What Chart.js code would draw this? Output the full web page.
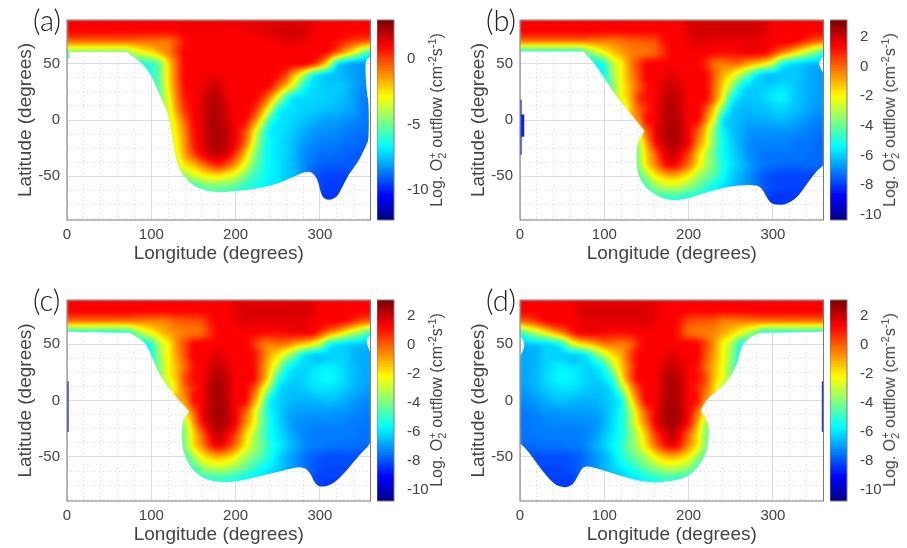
<!DOCTYPE html>
<html>
<head>
<meta charset="utf-8">
<script src="https://cdn.jsdelivr.net/npm/chart.js@4"></script>
<style>
    body { margin: 0; background: #fff; font-family: "Liberation Sans", sans-serif; color: #444; }
    canvas { position: absolute; }
    .tag { position: absolute; font: 300 29px "Lato", sans-serif; color: #222; }
    .cbTitle { position: absolute; font-size: 16px; white-space: nowrap; transform: translate(-50%, -50%) rotate(-90deg); }
    .cbTitle sub, .cbTitle sup { font-size: 11px; line-height: 0; }
    .cbTitle .stack { margin-left: -6px; }
</style>
</head>
<body>
<script>
// grid axes of the value tables: one row per latitude, one column per longitude
const lons = [0,10,20,30,40,50,60,70,80,90,100,110,120,130,140,150,160,170,180,190,200,210,220,230,240,250,260,270,280,290,300,310,320,330,340,350,360];
const lats = [90,80,70,60,50,40,30,20,10,0,-10,-20,-30,-40,-50,-60,-70,-80];

const lonGrid = [0,20,40,60,80,100,120,140,160,180,200,220,240,260,280,300,320,340,360];
const latGrid = [-87.5,-75,-62.5,-50,-37.5,-25,-12.5,0,12.5,25,37.5,50,62.5,75,87.5];
const lonLabels = [0,100,200,300];
const latLabels = [-50,0,50];

// log10 O2+ outflow
const valuesA = [
[1.1,1.1,1.1,1.1,1.1,1.1,1.1,1.1,1.1,1.1,1.1,1.1,1.1,1.1,1.3,1.3,1.3,1.3,1.3,1.3,1.3,1.3,1.3,1.3,1.3,1.3,1.3,1.3,1.3,1.3,1.1,1.1,1.1,1.1,1.1,1.1,1.1],
[1.1,1.1,1.1,1.1,1.1,1.1,1.1,1.1,1.1,1.1,1.1,1.1,1.1,1.1,1.3,1.3,1.3,1.3,1.3,1.2,1.2,1.3,1.4,1.5,1.6,1.7,1.8,1.8,1.7,1.4,1.2,1.1,1.1,1.1,1.1,1.1,1.1],
[-0.6,-0.6,-0.6,-0.6,-0.6,-0.6,-0.6,-0.6,-0.6,-0.6,-0.6,-0.6,-0.6,0.1,0.9,1.1,1.1,1.1,1.2,1.1,1.1,1.1,1.1,1.2,1.2,1.3,1.5,1.5,1.4,1.2,1.1,1.1,0.9,0.5,0.1,-0.2,-0.4],
[-4.6,-4.6,-4.6,-4.6,-4.6,-4.6,-4.6,-4.6,-3.6,-2.9,-2.4,-1.6,-0.9,0.2,1.1,1.1,1.1,1.1,1.1,1.1,1.1,1.1,1.1,1.1,1.1,1.1,1.1,1.1,1.1,1.1,1.1,0.7,-0.5,-1.7,-3,-4.6,-5.8],
[-6,-6,-6,-6,-6,-6,-6,-6,-6,-6.2,-5.6,-4.8,-2.2,-0.4,1.1,1.1,1.1,1.1,1.1,1.1,1.1,1.1,1.1,1.1,1.1,1.1,1.1,1.1,1.1,0.5,-0.7,-3,-6.5,-7.5,-8,-8,-8],
[-6,-6,-6,-6,-6,-6,-6,-6,-6,-6,-6,-4.8,-2.4,-0.4,1.1,1.1,1.2,1.3,1.3,1.2,1.1,1.1,1.1,1.1,1.1,0.9,0,-1.8,-3.6,-5.9,-6.9,-7.5,-7.5,-7.7,-8,-8.2,-8.2],
[-5.5,-5.5,-5.5,-5.5,-5.5,-5.5,-5.5,-5.5,-5.5,-5.5,-5.5,-5,-2.6,-0.6,1,1.1,1.3,1.8,1.7,1.2,1.1,1.1,1.1,1.1,0.9,-0.4,-1.9,-3.8,-6,-6.9,-7.2,-7.3,-7.3,-7.5,-7.9,-8.2,-8.4],
[-5,-5,-5,-5,-5,-5,-5,-5,-5,-5,-5,-4.9,-3,-0.9,0.7,1.1,1.5,2,2,1.4,1.1,1.1,1.1,0.6,-0.9,-3,-5.6,-6.9,-7,-7.1,-7.2,-7.3,-7.4,-7.6,-8,-8.4,-8.6],
[-4.5,-4.5,-4.5,-4.5,-4.5,-4.5,-4.5,-4.5,-4.5,-4.5,-4.5,-4.5,-3.4,-1.2,0.4,1.1,1.6,2.2,2.2,1.6,1.1,1.1,0.8,-0.7,-3,-6,-6.8,-7,-7.2,-7.3,-7.4,-7.5,-7.6,-7.8,-8,-8.4,-8.6],
[-4,-4,-4,-4,-4,-4,-4,-4,-4,-4,-4,-4,-3.6,-2,-0.3,1,1.5,2.3,2.2,1.7,1.2,1.1,-0.3,-2.4,-5.6,-6.8,-7,-7.2,-7.4,-7.6,-7.8,-8,-8,-8.2,-8.3,-8.5,-8.6],
[-3.6,-3.6,-3.6,-3.6,-3.6,-3.6,-3.6,-3.6,-3.6,-3.6,-3.6,-3.6,-3.6,-2.4,-0.8,0.8,1.5,2.2,2.3,2,1.1,0.2,-1.8,-4.6,-6.6,-6.9,-7.1,-7.4,-7.7,-8,-8.2,-8.2,-8.3,-8.5,-8.6,-8.7,-8.7],
[-3.5,-3.5,-3.5,-3.5,-3.5,-3.5,-3.5,-3.5,-3.5,-3.5,-3.5,-3.5,-3.5,-2.7,-1,0.6,1.4,2.1,2.3,1.9,1.1,-0.2,-2.6,-5.2,-6.5,-6.9,-7.2,-7.6,-8,-8.2,-8.4,-8.5,-8.5,-8.7,-8.7,-8.9,-8.9],
[-3.5,-3.5,-3.5,-3.5,-3.5,-3.5,-3.5,-3.5,-3.5,-3.5,-3.5,-3.5,-3.5,-3,-1.3,0.1,1.1,1.9,2,1.5,0.3,-1.5,-3.8,-5.6,-6.6,-6.9,-7.2,-7.7,-8.2,-8.5,-8.7,-8.7,-8.8,-8.9,-9,-9,-9],
[-3.8,-3.8,-3.8,-3.8,-3.8,-3.8,-3.8,-3.8,-3.8,-3.8,-3.8,-3.8,-3.8,-3.8,-2.4,-1.8,-0.8,0,0.5,-0.2,-1.3,-2.9,-4.6,-5.8,-6.6,-6.9,-7.3,-7.7,-8.2,-8.6,-8.9,-9,-9,-9,-9,-9.1,-9.1],
[-5,-5,-5,-5,-5,-5,-5,-5,-5,-5,-5,-5,-5,-5,-4.4,-3.5,-3,-2.6,-2.5,-2.9,-3.5,-4.6,-5.6,-6.1,-6.7,-6.9,-7.3,-7.6,-8.2,-8.9,-9.3,-9.4,-9.4,-9.4,-9.4,-9.4,-9.4],
[-6,-6,-6,-6,-6,-6,-6,-6,-6,-6,-6,-6,-6,-6,-6,-6,-5.2,-4.9,-4.9,-5,-5.4,-5.9,-6.1,-6.5,-6.8,-7,-7.3,-7.6,-8,-8.8,-9.3,-9.5,-9.5,-9.5,-9.5,-9.5,-9.5],
[-6,-6,-6,-6,-6,-6,-6,-6,-6,-6,-6,-6,-6,-6,-6,-6,-6,-6,-6,-6,-6,-6.2,-6.4,-6.6,-6.9,-7.2,-7.5,-7.8,-8.2,-8.9,-9.6,-9.6,-9.6,-9.6,-9.6,-9.6,-9.6],
[-6,-6,-6,-6,-6,-6,-6,-6,-6,-6,-6,-6,-6,-6,-6,-6,-6,-6,-6,-6,-6,-6.2,-6.4,-6.6,-6.9,-7.2,-7.5,-7.8,-8.2,-8.9,-9.6,-9.6,-9.6,-9.6,-9.6,-9.6,-9.6]
];

const valuesB = [
[1.5,1.5,1.5,1.5,1.5,1.5,1.5,1.5,1.5,1.5,1.5,1.5,1.5,1.5,1.5,1.5,1.5,1.5,1.5,1.5,1.9,1.9,1.9,1.9,1.9,1.9,1.9,1.9,1.9,1.9,1.5,1.5,1.5,1.5,1.5,1.5,1.5],
[1.5,1.5,1.5,1.5,1.5,1.5,1.5,1.5,1.5,1.5,1.5,1.5,1.5,1.5,1.5,1.5,1.5,1.5,1.5,1.5,1.9,2,2.1,2.1,2.1,2.1,2.1,2.1,2.1,1.9,1.5,1.5,1.5,1.5,1.5,1.5,1.5],
[-0.2,-0.2,-0.2,-0.2,-0.2,-0.2,-0.2,-0.2,-0.2,-0.2,-0.2,-0.2,0,0.2,0.3,0.4,0.5,1.2,1.5,1.5,1.7,1.9,1.8,1.7,1.7,1.7,1.7,1.7,1.7,1.6,1.5,1.5,1.5,1.2,0.7,0.2,0],
[-5,-5,-5,-5,-5,-5,-5,-5,-3.8,-2.8,-2,-1.2,-0.7,-0.3,-0.1,0,0.2,0.9,1.5,1.5,1.5,1.5,1.5,1.4,1.3,1.3,1.4,1.5,1.5,1.5,0.7,-0.2,-1,-1.9,-2.8,-3.6,-4.6],
[-5.5,-5.5,-5.5,-5.5,-5.5,-5.5,-5.5,-5.5,-5.5,-5.3,-4.7,-2.8,-1.8,-0.4,0.6,1.4,1.5,1.5,1.5,1.5,1.5,1.5,1,0.1,-0.1,0,-0.1,-0.7,-1.2,-1.8,-2.8,-4.8,-5.5,-5.8,-6,-6.1,-6.2],
[-5.5,-5.5,-5.5,-5.5,-5.5,-5.5,-5.5,-5.5,-5.5,-5.5,-5,-3.2,-1.9,-0.6,0.5,1.5,1.5,1.6,1.9,1.6,1.5,1.5,1.4,0.4,-0.8,-1.6,-2.8,-4,-5.4,-6,-6.1,-6,-6,-6,-6.3,-6.5,-6.6],
[-5,-5,-5,-5,-5,-5,-5,-5,-5,-5,-5,-3.6,-2,-0.9,0.2,1.2,1.5,1.9,2.1,1.9,1.5,1.5,1.4,0.1,-1.3,-3,-4.9,-5.7,-5.9,-5.9,-5.8,-5.7,-5.8,-6.1,-6.3,-6.5,-6.6],
[-8.3,-8.3,-4,-4,-4,-4,-4,-4,-4,-4,-4,-3.5,-2.1,-1,0.6,1.3,1.5,2.1,2.3,2.1,1.5,1.5,1.5,0.1,-1.9,-4.6,-5.7,-6,-6,-5.8,-5.6,-5.4,-5.7,-6.1,-6.3,-6.5,-6.6],
[-8.3,-8.3,-3,-3,-3,-3,-3,-3,-3,-3,-3,-3,-3,-1.3,0.1,1,1.5,2.2,2.5,2.1,1.5,1.5,0.6,-1.2,-3.6,-5.7,-6.1,-6.2,-6.1,-6.1,-5.9,-5.8,-6,-6.1,-6.4,-6.6,-6.7],
[-8.3,-8.3,-1,-1,-1,-1,-1,-1,-1,-1,-1,-1,-1,-1,-0.4,1.2,1.5,2.2,2.5,2.2,1.5,1.5,-0.2,-2.3,-5.3,-6,-6.2,-6.4,-6.4,-6.3,-6.3,-6.2,-6.3,-6.5,-6.7,-6.9,-6.9],
[-8.3,-8.3,-2,-2,-2,-2,-2,-2,-2,-2,-2,-2,-2,-2,-1.5,0.2,1.5,2.3,2.6,2.3,1.5,0.4,-1.2,-3.5,-5.2,-6,-6.3,-6.6,-6.7,-6.7,-6.7,-6.7,-6.7,-6.8,-6.9,-7.1,-7.1],
[-8.3,-8.3,-4,-4,-4,-4,-4,-4,-4,-4,-4,-4,-4,-4,-3,-0.6,1.2,2.1,2.5,2.2,1.5,-0.1,-1.6,-3.6,-5.1,-5.8,-6.3,-6.7,-6.9,-6.9,-6.9,-6.9,-7,-7.1,-7.1,-7.2,-7.3],
[-8.3,-8.3,-4,-4,-4,-4,-4,-4,-4,-4,-4,-4,-4,-4,-3.4,-1.4,0.2,1.5,2.1,1.6,0.6,-1,-2.6,-4,-5.1,-5.7,-6.2,-6.7,-6.9,-7.1,-7.1,-7.1,-7.1,-7.1,-7.2,-7.2,-7.3],
[-4.5,-4.5,-4.5,-4.5,-4.5,-4.5,-4.5,-4.5,-4.5,-4.5,-4.5,-4.5,-4.5,-4.5,-3.6,-1.6,-0.4,0.9,1.5,0.9,-0.1,-1.5,-2.9,-3.8,-4.9,-5.6,-6,-6.5,-6.9,-7.1,-7.2,-7.3,-7.3,-7.3,-7.3,-7.3,-7.3],
[-4.4,-4.4,-4.4,-4.4,-4.4,-4.4,-4.4,-4.4,-4.4,-4.4,-4.4,-4.4,-4.4,-4.4,-4.4,-3.2,-1.9,-1.2,-0.9,-1.2,-1.9,-3,-3.7,-4.3,-5.1,-5.8,-6.3,-6.7,-7.1,-7.5,-7.7,-7.8,-7.8,-7.8,-7.8,-7.8,-7.8],
[-4.4,-4.4,-4.4,-4.4,-4.4,-4.4,-4.4,-4.4,-4.4,-4.4,-4.4,-4.4,-4.4,-4.4,-4.4,-4.4,-3.5,-3,-2.8,-3,-3.5,-4,-4.6,-5.2,-5.6,-6,-6.4,-6.7,-7.1,-7.5,-7.7,-7.8,-7.8,-7.8,-7.8,-7.8,-7.8],
[-4.8,-4.8,-4.8,-4.8,-4.8,-4.8,-4.8,-4.8,-4.8,-4.8,-4.8,-4.8,-4.8,-4.8,-4.8,-4.8,-4.8,-4.8,-4.7,-4.8,-5,-5.3,-5.6,-5.8,-6,-6.3,-6.7,-7,-7.3,-7.7,-8,-8,-8,-8,-8,-8,-8],
[-4.8,-4.8,-4.8,-4.8,-4.8,-4.8,-4.8,-4.8,-4.8,-4.8,-4.8,-4.8,-4.8,-4.8,-4.8,-4.8,-4.8,-4.8,-4.7,-4.8,-5,-5.3,-5.6,-5.8,-6,-6.3,-6.7,-7,-7.3,-7.7,-8,-8,-8,-8,-8,-8,-8]
];

const valuesC = [
[1.4,1.4,1.4,1.4,1.4,1.4,1.4,1.4,1.4,1.4,1.4,1.4,1.4,1.4,1.4,1.4,1.4,1.4,1.4,1.4,1.6,1.6,1.6,1.6,1.6,1.6,1.6,1.6,1.6,1.6,1.4,1.4,1.4,1.4,1.4,1.4,1.4],
[1.4,1.4,1.4,1.4,1.4,1.4,1.4,1.4,1.4,1.4,1.4,1.4,1.4,1.4,1.4,1.4,1.4,1.4,1.4,1.4,1.7,1.8,1.9,1.9,1.9,1.9,1.9,1.9,1.9,1.8,1.4,1.4,1.4,1.4,1.4,1.4,1.4],
[-0.4,-0.4,-0.4,-0.4,-0.4,-0.4,-0.4,-0.4,-0.4,-0.4,-0.4,-0.4,-0.3,0.1,0.2,0.3,0.4,1.1,1.4,1.4,1.6,1.8,1.7,1.7,1.7,1.7,1.7,1.7,1.7,1.5,1.4,1.4,1.4,1.1,0.6,0.1,-0.1],
[-5.2,-5.2,-5.2,-5.2,-5.2,-5.2,-5.2,-5.2,-4,-3,-2.2,-1.4,-0.9,-0.5,-0.3,-0.2,0,0.8,1.4,1.4,1.4,1.4,1.4,1.3,1.2,1.2,1.3,1.4,1.4,1.4,0.6,-0.4,-1.2,-2.1,-3,-3.8,-4.8],
[-5.7,-5.7,-5.7,-5.7,-5.7,-5.7,-5.7,-5.7,-5.7,-5.5,-4.9,-3,-2,-0.6,0.4,1.3,1.4,1.4,1.4,1.4,1.4,1.4,0.9,0,-0.3,-0.2,-0.3,-0.9,-1.4,-2,-3,-5,-5.7,-6,-6.2,-6.3,-6.4],
[-5.7,-5.7,-5.7,-5.7,-5.7,-5.7,-5.7,-5.7,-5.7,-5.7,-5.2,-3.4,-2.1,-0.8,0.3,1.4,1.4,1.5,1.8,1.5,1.4,1.4,1.3,0.3,-1,-1.8,-3,-4.2,-5.6,-6.2,-6.3,-6.2,-6.2,-6.2,-6.6,-6.7,-6.8],
[-5.2,-5.2,-5.2,-5.2,-5.2,-5.2,-5.2,-5.2,-5.2,-5.2,-5.2,-3.8,-2.2,-1.1,0,1.1,1.4,1.8,2.1,1.8,1.4,1.4,1.3,0,-1.5,-3.2,-5.1,-5.8,-6.1,-6,-5.9,-5.8,-5.9,-6.2,-6.5,-6.7,-6.8],
[-8.7,-8.7,-4.2,-4.2,-4.2,-4.2,-4.2,-4.2,-4.2,-4.2,-4.2,-3.7,-2.3,-1.2,0.4,1.2,1.4,2.1,2.4,2.1,1.4,1.4,1.4,0,-2.1,-4.8,-5.8,-6.2,-6.2,-5.9,-5.7,-5.6,-5.8,-6.1,-6.5,-6.7,-6.8],
[-8.7,-8.7,-3.2,-3.2,-3.2,-3.2,-3.2,-3.2,-3.2,-3.2,-3.2,-3.2,-3.2,-1.5,-0.1,0.9,1.4,2.2,2.5,2.1,1.4,1.4,0.5,-1.4,-3.8,-5.8,-6.3,-6.4,-6.3,-6.1,-6,-6,-6.1,-6.3,-6.6,-6.8,-7],
[-8.7,-8.7,-1.2,-1.2,-1.2,-1.2,-1.2,-1.2,-1.2,-1.2,-1.2,-1.2,-1.2,-1.2,-0.6,1.1,1.4,2.2,2.5,2.2,1.4,1.4,-0.3,-2.5,-5.5,-6.1,-6.4,-6.6,-6.6,-6.6,-6.5,-6.4,-6.5,-6.7,-6.9,-7.1,-7.2],
[-8.7,-8.7,-2.2,-2.2,-2.2,-2.2,-2.2,-2.2,-2.2,-2.2,-2.2,-2.2,-2.2,-2.2,-1.7,0,1.4,2.3,2.6,2.3,1.4,0.3,-1.4,-3.7,-5.4,-6.1,-6.6,-6.8,-6.9,-6.9,-6.9,-6.9,-7,-7,-7.2,-7.3,-7.4],
[-8.7,-8.7,-4.2,-4.2,-4.2,-4.2,-4.2,-4.2,-4.2,-4.2,-4.2,-4.2,-4.2,-4.2,-3.2,-0.8,1.1,2.1,2.5,2.2,1.4,-0.3,-1.8,-3.8,-5.3,-6,-6.6,-7,-7.1,-7.2,-7.2,-7.2,-7.2,-7.3,-7.4,-7.4,-7.5],
[-8.7,-8.7,-4.2,-4.2,-4.2,-4.2,-4.2,-4.2,-4.2,-4.2,-4.2,-4.2,-4.2,-4.2,-3.6,-1.6,0,1.4,2.2,1.5,0.5,-1.2,-2.8,-4.2,-5.3,-5.9,-6.4,-6.9,-7.2,-7.3,-7.4,-7.4,-7.4,-7.4,-7.4,-7.5,-7.5],
[-4.6,-4.6,-4.6,-4.6,-4.6,-4.6,-4.6,-4.6,-4.6,-4.6,-4.6,-4.6,-4.6,-4.6,-3.8,-1.8,-0.6,0.8,1.4,0.8,-0.3,-1.7,-3.1,-4,-5.1,-5.7,-6.2,-6.7,-7.1,-7.4,-7.4,-7.5,-7.5,-7.5,-7.6,-7.6,-7.6],
[-4.6,-4.6,-4.6,-4.6,-4.6,-4.6,-4.6,-4.6,-4.6,-4.6,-4.6,-4.6,-4.6,-4.6,-4.6,-3.4,-2.1,-1.4,-1.1,-1.4,-2.1,-3.2,-3.9,-4.5,-5.3,-6,-6.6,-7,-7.4,-7.7,-7.9,-8,-8,-8,-8,-8,-8],
[-4.6,-4.6,-4.6,-4.6,-4.6,-4.6,-4.6,-4.6,-4.6,-4.6,-4.6,-4.6,-4.6,-4.6,-4.6,-4.6,-3.7,-3.2,-3,-3.2,-3.7,-4.2,-4.8,-5.4,-5.8,-6.2,-6.6,-7,-7.4,-7.8,-8,-8.1,-8.1,-8.1,-8.1,-8.1,-8.1],
[-5,-5,-5,-5,-5,-5,-5,-5,-5,-5,-5,-5,-5,-5,-5,-5,-5,-5,-4.9,-5,-5.2,-5.5,-5.8,-6,-6.3,-6.6,-6.9,-7.2,-7.6,-7.9,-8.2,-8.2,-8.2,-8.2,-8.2,-8.2,-8.2],
[-5,-5,-5,-5,-5,-5,-5,-5,-5,-5,-5,-5,-5,-5,-5,-5,-5,-5,-4.9,-5,-5.2,-5.5,-5.8,-6,-6.3,-6.6,-6.9,-7.2,-7.6,-7.9,-8.2,-8.2,-8.2,-8.2,-8.2,-8.2,-8.2]
];

const valuesD = [
[1.4,1.4,1.4,1.4,1.4,1.4,1.4,1.6,1.6,1.6,1.6,1.6,1.6,1.6,1.6,1.6,1.6,1.4,1.4,1.4,1.4,1.4,1.4,1.4,1.4,1.4,1.4,1.4,1.4,1.4,1.4,1.4,1.4,1.4,1.4,1.4,1.4],
[1.4,1.4,1.4,1.4,1.4,1.4,1.4,1.8,1.9,1.9,1.9,1.9,1.9,1.9,1.9,1.8,1.7,1.4,1.4,1.4,1.4,1.4,1.4,1.4,1.4,1.4,1.4,1.4,1.4,1.4,1.4,1.4,1.4,1.4,1.4,1.4,1.4],
[-0.1,0.1,0.6,1.1,1.4,1.4,1.4,1.5,1.7,1.7,1.7,1.7,1.7,1.7,1.7,1.8,1.6,1.4,1.4,1.1,0.4,0.3,0.2,0.1,-0.3,-0.4,-0.4,-0.4,-0.4,-0.4,-0.4,-0.4,-0.4,-0.4,-0.4,-0.4,-0.4],
[-4.8,-3.8,-3,-2.1,-1.2,-0.4,0.6,1.4,1.4,1.4,1.3,1.2,1.2,1.3,1.4,1.4,1.4,1.4,1.4,0.8,0,-0.2,-0.3,-0.5,-0.9,-1.4,-2.2,-3,-4,-5.2,-5.2,-5.2,-5.2,-5.2,-5.2,-5.2,-5.2],
[-6.4,-6.3,-6.2,-6,-5.7,-5,-3,-2,-1.4,-0.9,-0.3,-0.2,-0.3,0,0.9,1.4,1.4,1.4,1.4,1.4,1.4,1.3,0.4,-0.6,-2,-3,-4.9,-5.5,-5.7,-5.7,-5.7,-5.7,-5.7,-5.7,-5.7,-5.7,-5.7],
[-6.8,-6.7,-6.6,-6.2,-6.2,-6.2,-6.3,-6.2,-5.6,-4.2,-3,-1.8,-1,0.3,1.3,1.4,1.4,1.5,1.8,1.5,1.4,1.4,0.3,-0.8,-2.1,-3.4,-5.2,-5.7,-5.7,-5.7,-5.7,-5.7,-5.7,-5.7,-5.7,-5.7,-5.7],
[-6.8,-6.7,-6.5,-6.2,-5.9,-5.8,-5.9,-6,-6.1,-5.8,-5.1,-3.2,-1.5,0,1.3,1.4,1.4,1.8,2.1,1.8,1.4,1.1,0,-1.1,-2.2,-3.8,-5.2,-5.2,-5.2,-5.2,-5.2,-5.2,-5.2,-5.2,-5.2,-5.2,-5.2],
[-6.8,-6.7,-6.5,-6.1,-5.8,-5.6,-5.7,-5.9,-6.2,-6.2,-5.8,-4.8,-2.1,0,1.4,1.4,1.4,2.1,2.4,2.1,1.4,1.2,0.4,-1.2,-2.3,-3.7,-4.2,-4.2,-4.2,-4.2,-4.2,-4.2,-4.2,-4.2,-4.2,-8.7,-8.7],
[-7,-6.8,-6.6,-6.3,-6.1,-6,-6,-6.1,-6.3,-6.4,-6.3,-5.8,-3.8,-1.4,0.5,1.4,1.4,2.1,2.5,2.2,1.4,0.9,-0.1,-1.5,-3.2,-3.2,-3.2,-3.2,-3.2,-3.2,-3.2,-3.2,-3.2,-3.2,-3.2,-8.7,-8.7],
[-7.2,-7.1,-6.9,-6.7,-6.5,-6.4,-6.5,-6.6,-6.6,-6.6,-6.4,-6.1,-5.5,-2.5,-0.3,1.4,1.4,2.2,2.5,2.2,1.4,1.1,-0.6,-1.2,-1.2,-1.2,-1.2,-1.2,-1.2,-1.2,-1.2,-1.2,-1.2,-1.2,-1.2,-8.7,-8.7],
[-7.4,-7.3,-7.2,-7,-7,-6.9,-6.9,-6.9,-6.9,-6.8,-6.6,-6.1,-5.4,-3.7,-1.4,0.3,1.4,2.3,2.6,2.3,1.4,0,-1.7,-2.2,-2.2,-2.2,-2.2,-2.2,-2.2,-2.2,-2.2,-2.2,-2.2,-2.2,-2.2,-8.7,-8.7],
[-7.5,-7.4,-7.4,-7.3,-7.2,-7.2,-7.2,-7.2,-7.1,-7,-6.6,-6,-5.3,-3.8,-1.8,-0.3,1.4,2.2,2.5,2.1,1.1,-0.8,-3.2,-4.2,-4.2,-4.2,-4.2,-4.2,-4.2,-4.2,-4.2,-4.2,-4.2,-4.2,-4.2,-8.7,-8.7],
[-7.5,-7.5,-7.4,-7.4,-7.4,-7.4,-7.4,-7.3,-7.2,-6.9,-6.4,-5.9,-5.3,-4.2,-2.8,-1.2,0.5,1.5,2.2,1.4,0,-1.6,-3.6,-4.2,-4.2,-4.2,-4.2,-4.2,-4.2,-4.2,-4.2,-4.2,-4.2,-4.2,-4.2,-8.7,-8.7],
[-7.6,-7.6,-7.6,-7.5,-7.5,-7.5,-7.4,-7.4,-7.1,-6.7,-6.2,-5.7,-5.1,-4,-3.1,-1.7,-0.3,0.8,1.4,0.8,-0.6,-1.8,-3.8,-4.6,-4.6,-4.6,-4.6,-4.6,-4.6,-4.6,-4.6,-4.6,-4.6,-4.6,-4.6,-4.6,-4.6],
[-8,-8,-8,-8,-8,-8,-7.9,-7.7,-7.4,-7,-6.6,-6,-5.3,-4.5,-3.9,-3.2,-2.1,-1.4,-1.1,-1.4,-2.1,-3.4,-4.6,-4.6,-4.6,-4.6,-4.6,-4.6,-4.6,-4.6,-4.6,-4.6,-4.6,-4.6,-4.6,-4.6,-4.6],
[-8.1,-8.1,-8.1,-8.1,-8.1,-8.1,-8,-7.8,-7.4,-7,-6.6,-6.2,-5.8,-5.4,-4.8,-4.2,-3.7,-3.2,-3,-3.2,-3.7,-4.6,-4.6,-4.6,-4.6,-4.6,-4.6,-4.6,-4.6,-4.6,-4.6,-4.6,-4.6,-4.6,-4.6,-4.6,-4.6],
[-8.2,-8.2,-8.2,-8.2,-8.2,-8.2,-8.2,-7.9,-7.6,-7.2,-6.9,-6.6,-6.3,-6,-5.8,-5.5,-5.2,-5,-4.9,-5,-5,-5,-5,-5,-5,-5,-5,-5,-5,-5,-5,-5,-5,-5,-5,-5,-5],
[-8.2,-8.2,-8.2,-8.2,-8.2,-8.2,-8.2,-7.9,-7.6,-7.2,-6.9,-6.6,-6.3,-6,-5.8,-5.5,-5.2,-5,-4.9,-5,-5,-5,-5,-5,-5,-5,-5,-5,-5,-5,-5,-5,-5,-5,-5,-5,-5]
];

// outlines of the coloured area as [lon, lat]; everything outside stays white.
// a repeated vertex keeps a hard corner when the outline is smoothed
const outlineA = [[[-5,95],[-5,95],[365,95],[365,95],[365,56],[365,56],[354,55.5],[354,40],[356,22],[358,15],[358,-16],[356,-21],[352,-27],[345,-38],[335,-47],[325,-62],[320,-69],[310,-71.5],[303,-69],[300,-62],[297,-52],[290,-46],[282,-46],[270,-50],[250,-57],[220,-62],[200,-63],[183,-64.5],[165,-63],[150,-59],[135,-47],[128,-32],[125,-14],[120,6],[110,22],[100,40],[90,50],[75,58],[72,60.5],[72,60.5],[3,60.5],[3,60.5],[3,55],[3,55],[-5,55],[-5,55]]];
const outlineB = [[[-5,95],[-5,95],[365,95],[365,95],[365,60],[365,60],[358,56],[354,50],[358,44],[365,36],[365,-38],[353,-44],[341,-56],[329,-69],[315,-75.5],[300,-75.5],[294,-71],[286,-59],[274,-57.5],[246,-59],[218,-65],[194,-71],[179,-71.6],[163,-68],[147,-59],[139,-47],[138,-35],[139,-20],[148,-10],[148,-10],[131,6],[111,24],[99,39],[87,52],[75,61],[75,61],[-5,61],[-5,61]],
    [[0,18],[2,18],[2,5],[5,5],[5,-15],[2,-15],[2,-31],[0,-31]]];
const outlineC = [[[-5,95],[-5,95],[365,95],[365,95],[365,60],[365,60],[358,57],[354,52],[365,34],[365,-35],[348,-47],[332,-62],[316,-74],[302,-77],[294,-74],[288,-63],[278,-58],[257,-62],[229,-67],[197,-72.5],[173,-72],[154,-66],[142,-54],[136,-40],[136,-19],[145,-10],[145,-10],[126,6],[110,22],[100,40],[94,50],[86,55],[74,60],[74,60],[-5,61],[-5,61]],
    [[0,17],[2,17],[2,-28],[0,-28]]];
const outlineD = [[[-5,95],[-5,95],[365,95],[365,95],[365,61],[365,61],[286,60],[286,60],[274,57],[262,49],[258,31],[242,13],[222,2],[214,-9],[214,-9],[224,-19],[224,-37],[218,-52],[202,-67],[179,-72],[151,-73],[115,-66],[87,-59],[75,-58],[69,-66],[63,-75],[52,-77.5],[40,-74],[24,-60],[8,-43],[-5,-35],[-5,34],[4,43],[6,53],[-5,60],[-5,60]],
    [[358,17],[360,17],[360,-28],[358,-28]]];

const ticksA = [0,-5,-10];
const ticksOther = [2,0,-2,-4,-6,-8,-10];

const panels = [
    { tag: "(a)", left: 0, top: 0, height: 265, values: valuesA, outline: outlineA, vmin: -12.3, vmax: 3, cbTicks: ticksA },
    { tag: "(b)", left: 453, top: 0, height: 265, values: valuesB, outline: outlineB, vmin: -10.35, vmax: 3.15, cbTicks: ticksOther },
    { tag: "(c)", left: 0, top: 280, height: 266, values: valuesC, outline: outlineC, vmin: -10.8, vmax: 3.1, cbTicks: ticksOther },
    { tag: "(d)", left: 453, top: 280, height: 266, values: valuesD, outline: outlineD, vmin: -10.8, vmax: 3.1, cbTicks: ticksOther }
];

const textColor = "#444";
const tickFont = { family: "Liberation Sans", size: 15 };
const titleFont = { family: "Liberation Sans", size: 19 };

// matlab style jet, stepped
function jet(t, levels) {
    let i = Math.max(0, Math.min(levels - 1, Math.floor(t * levels)));
    let c = (i + 0.5) / levels;
    let ch = v => Math.round(255 * Math.max(0, Math.min(1, 1.5 - Math.abs(4 * c - v))));
    return [ch(3), ch(2), ch(1)];
}

// catmull-rom, held between its two middle values so flat red areas stay flat
function spline(p0, p1, p2, p3, t) {
    let v = p1 + 0.5 * t * (p2 - p0 + t * (2 * p0 - 5 * p1 + 4 * p2 - p3 + t * (3 * (p1 - p2) + p3 - p0)));
    return Math.max(Math.min(p1, p2), Math.min(Math.max(p1, p2), v));
}

// smooth lookup between the table cells
function sample(values, lon, lat) {
    let fx = Math.max(0, Math.min(lons.length - 1.001, lon / 10));
    let fy = Math.max(0, Math.min(lats.length - 1.001, (90 - lat) / 10));
    let i = Math.floor(fx), j = Math.floor(fy);
    let rowAt = r => {
        let row = values[Math.max(0, Math.min(lats.length - 1, r))];
        let at = k => row[Math.max(0, Math.min(lons.length - 1, k))];
        return spline(at(i - 1), at(i), at(i + 1), at(i + 2), fx - i);
    };
    return spline(rowAt(j - 1), rowAt(j), rowAt(j + 1), rowAt(j + 2), fy - j);
}

// paints the value table under the datasets, going through the chart's scales
const heatPlugin = {
    id: "heat",
    beforeDatasetsDraw(chart) {
        let p = chart.config.options.plugins.heat;
        let { x, y } = chart.scales;
        let area = chart.chartArea;
        let w = Math.round(area.width), h = Math.round(area.height);
        let off = document.createElement("canvas");
        off.width = w;
        off.height = h;
        let octx = off.getContext("2d");
        let img = octx.createImageData(w, h);
        for (let py = 0; py < h; py++) {
            let lat = y.getValueForPixel(area.top + py + 0.5);
            for (let px = 0; px < w; px++) {
                let lon = x.getValueForPixel(area.left + px + 0.5);
                let v = sample(p.values, lon, lat);
                let c = jet((v - p.vmin) / (p.vmax - p.vmin), 128);
                let k = (py * w + px) * 4;
                img.data[k] = c[0];
                img.data[k + 1] = c[1];
                img.data[k + 2] = c[2];
                img.data[k + 3] = 255;
            }
        }
        octx.putImageData(img, 0, 0);

        let ctx = chart.ctx;
        ctx.save();
        ctx.beginPath();
        ctx.rect(area.left, area.top, area.width, area.height);
        ctx.clip();
        ctx.beginPath();
        p.outline.forEach(poly => {
            let pts = poly.map(pt => [x.getPixelForValue(pt[0]), y.getPixelForValue(pt[1])]);
            if (pts.length < 10) {
                // the small strip at the map edge keeps its corners
                pts.forEach((q, n) => { if (n === 0) ctx.moveTo(q[0], q[1]); else ctx.lineTo(q[0], q[1]); });
            } else {
                let last = pts[pts.length - 1];
                ctx.moveTo((last[0] + pts[0][0]) / 2, (last[1] + pts[0][1]) / 2);
                pts.forEach((q, n) => {
                    let next = pts[(n + 1) % pts.length];
                    ctx.quadraticCurveTo(q[0], q[1], (q[0] + next[0]) / 2, (q[1] + next[1]) / 2);
                });
            }
            ctx.closePath();
        });
        ctx.clip();
        ctx.filter = "blur(0.8px)";
        ctx.drawImage(off, area.left, area.top, area.width, area.height);
        ctx.restore();
    }
};

const framePlugin = {
    id: "frame",
    afterDraw(chart) {
        let area = chart.chartArea;
        let ctx = chart.ctx;
        ctx.save();
        ctx.strokeStyle = "#7a7a7a";
        ctx.lineWidth = 1;
        ctx.strokeRect(area.left, area.top, area.width, area.height);
        ctx.restore();
    }
};

function addCanvas(left, top, width, height) {
    let canvas = document.createElement("canvas");
    canvas.width = width;
    canvas.height = height;
    canvas.style.left = left + "px";
    canvas.style.top = top + "px";
    document.body.appendChild(canvas);
    return canvas;
}

function drawMap(p) {
    let cells = [];
    lats.forEach((lat, j) => lons.forEach((lon, i) => cells.push({ x: lon, y: lat, v: p.values[j][i] })));

    new Chart(addCanvas(p.left, p.top, 372, p.height), {
        type: "scatter",
        data: { datasets: [{ data: cells, pointRadius: 0 }] },
        plugins: [heatPlugin, framePlugin],
        options: {
            responsive: false,
            animation: false,
            layout: { padding: { top: 20, right: 1.5 } },
            plugins: {
                legend: { display: false },
                tooltip: { enabled: false },
                heat: { values: p.values, outline: p.outline, vmin: p.vmin, vmax: p.vmax }
            },
            scales: {
                x: {
                    type: "linear", min: 0, max: 360,
                    afterBuildTicks: s => { s.ticks = lonGrid.map(v => ({ value: v })); },
                    afterFit: s => { s.height = 45; s.paddingLeft = 0; s.paddingRight = 0; },
                    grid: {
                        drawTicks: false,
                        color: c => lonLabels.includes(c.tick.value) ? "#d4d4d4" : "#cfcfcf",
                        lineWidth: 0.8
                    },
                    border: { display: false, dash: c => lonLabels.includes(c.tick.value) ? [] : [1, 3] },
                    ticks: {
                        autoSkip: false, maxRotation: 0, padding: 6, color: textColor, font: tickFont,
                        callback: v => lonLabels.includes(v) ? String(v) : ""
                    },
                    title: { display: true, text: "Longitude (degrees)", color: textColor, font: titleFont, padding: 0 }
                },
                y: {
                    type: "linear", min: -89, max: 89,
                    afterBuildTicks: s => { s.ticks = latGrid.map(v => ({ value: v })); },
                    afterFit: s => { s.width = 67; s.paddingTop = 0; s.paddingBottom = 0; },
                    grid: {
                        drawTicks: false,
                        color: c => latLabels.includes(c.tick.value) ? "#d4d4d4" : "#cfcfcf",
                        lineWidth: 0.8
                    },
                    border: { display: false, dash: c => latLabels.includes(c.tick.value) ? [] : [1, 3] },
                    ticks: {
                        autoSkip: false, padding: 7, color: textColor, font: tickFont,
                        callback: v => latLabels.includes(v) ? String(v) : ""
                    },
                    title: { display: true, text: "Latitude (degrees)", color: textColor, font: titleFont, padding: { top: 14, bottom: 0 } }
                }
            }
        }
    });

    let tag = document.createElement("div");
    tag.className = "tag";
    tag.textContent = p.tag;
    tag.style.left = (p.left + 33) + "px";
    tag.style.top = (p.top + 2) + "px";
    document.body.appendChild(tag);
}

function drawColorbar(p) {
    // one thin horizontal bar per colour step
    let steps = [];
    for (let i = 0; i < 64; i++) steps.push(p.vmin + (i + 0.5) * (p.vmax - p.vmin) / 64);

    new Chart(addCanvas(p.left + 377, p.top, 58, p.height), {
        type: "bar",
        data: {
            datasets: [{
                data: steps.map(v => ({ x: [0, 1], y: v })),
                backgroundColor: steps.map((v, i) => {
                    let c = jet((i + 0.5) / 64, 64);
                    return `rgb(${c[0]},${c[1]},${c[2]})`;
                }),
                barThickness: 5
            }]
        },
        plugins: [framePlugin],
        options: {
            indexAxis: "y",
            responsive: false,
            animation: false,
            layout: { padding: { top: 20, bottom: 45 } },
            plugins: { legend: { display: false }, tooltip: { enabled: false } },
            scales: {
                x: { type: "linear", min: 0, max: 1, display: false },
                y: {
                    type: "linear", position: "right", offset: false, min: p.vmin, max: p.vmax,
                    afterBuildTicks: s => { s.ticks = p.cbTicks.map(v => ({ value: v })); },
                    afterFit: s => { s.width = 41; s.paddingTop = 0; s.paddingBottom = 0; },
                    grid: { display: false },
                    border: { display: false },
                    ticks: { autoSkip: false, padding: 5, color: textColor, font: tickFont }
                }
            }
        }
    });

    let title = document.createElement("div");
    title.className = "cbTitle";
    title.innerHTML = "Log. O<sub>2</sub><sup class=\"stack\">+</sup> outflow (cm<sup>-2</sup>s<sup>-1</sup>)";
    title.style.left = (p.left + 437) + "px";
    title.style.top = (p.top + 120) + "px";
    document.body.appendChild(title);
}

panels.forEach(p => {
    drawMap(p);
    drawColorbar(p);
});
</script>
</body>
</html>
